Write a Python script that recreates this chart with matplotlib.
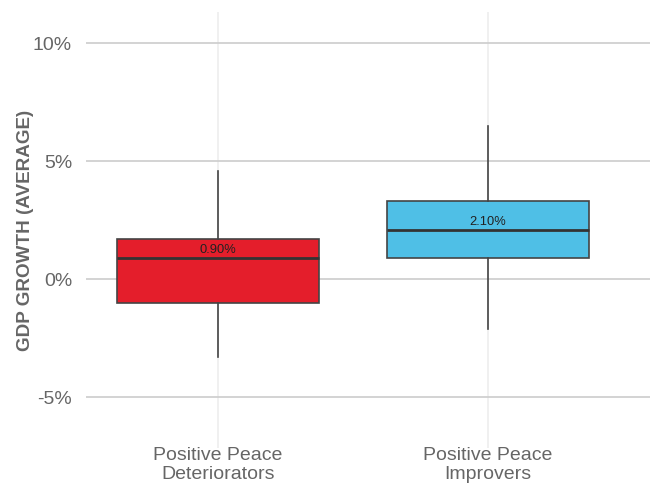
import matplotlib
matplotlib.use("Agg")
import matplotlib.pyplot as plt

categories = ["Positive Peace\nDeteriorators", "Positive Peace\nImprovers"]
q1 = [-1.02, 0.89]
median = [0.90, 2.10]
q3 = [1.73, 3.33]
whislo = [-3.30, -2.10]
whishi = [4.58, 6.49]
colors = ["#E41E2B", "#4FBFE6"]
yticks = [-5, 0, 5, 10]
ytick_labels = ["-5%", "0%", "5%", "10%"]

plt.rcParams['font.family'] = ['Liberation Sans', 'DejaVu Sans']

fig = plt.figure(figsize=(6.54, 4.86), dpi=100)
ax = fig.add_axes([86/654, 1-448/486, (650-86)/654, (448-12)/486])

stats = []
for i in range(len(categories)):
    stats.append(dict(med=median[i], q1=q1[i], q3=q3[i], whislo=whislo[i], whishi=whishi[i], fliers=[]))

pos = list(range(len(categories)))
bp = ax.bxp(stats, positions=pos, widths=0.75, patch_artist=True, showcaps=False,
            boxprops=dict(edgecolor="#444444", linewidth=1.2),
            medianprops=dict(color="#333333", linewidth=2),
            whiskerprops=dict(color="#444444", linewidth=1.2), zorder=3)
for patch, c in zip(bp['boxes'], colors):
    patch.set_facecolor(c)

for i in pos:
    ax.text(i, median[i] + 0.08, f"{median[i]:.2f}%", ha="center", va="bottom",
            fontsize=9.3, color="#222222", zorder=4)

ax.set_xlim(-0.489, 1.6)
ax.set_ylim(-7.14, 11.32)
ax.set_yticks(yticks)
ax.set_yticklabels(ytick_labels)
ax.set_xticks(pos)
ax.set_xticklabels(categories, linespacing=1.2)
ax.tick_params(axis='both', length=0, colors="#666666", labelsize=14)
ax.tick_params(axis='y', pad=10)
ax.tick_params(axis='x', pad=-1)
for s in ax.spines.values():
    s.set_visible(False)
ax.yaxis.grid(True, color="#cccccc", linewidth=1.2, zorder=0)
ax.xaxis.grid(True, color="#eeeeee", linewidth=1.2, zorder=0)
ax.set_axisbelow(True)
ax.set_ylabel("GDP GROWTH (AVERAGE)", fontsize=13.6, fontweight="bold", color="#666666")
ax.yaxis.set_label_coords(-52/564, 0.5)

fig.savefig("out.png", dpi=100)
